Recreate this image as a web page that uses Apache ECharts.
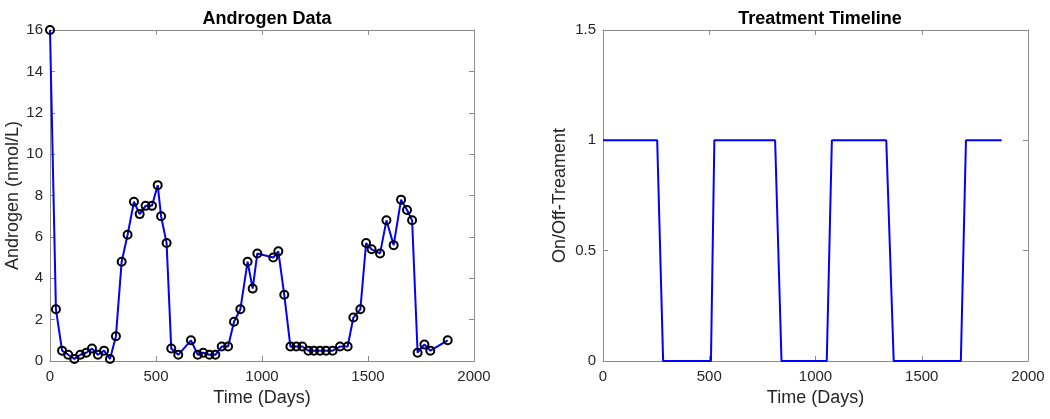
<!DOCTYPE html>
<html>
<head>
<meta charset="utf-8">
<script src="https://cdn.jsdelivr.net/npm/echarts@6/dist/echarts.min.js"></script>
<style>
  html, body { margin: 0; padding: 0; background: #fff; }
  #main { width: 1050px; height: 419px; }
</style>
</head>
<body>
<div id="main"></div>
<script>
// time points (days)
var days = [0, 28, 57, 86, 115, 143, 171, 198, 226, 255, 283, 311, 338, 366, 396, 423, 451, 481, 508, 524,
    550, 572, 605, 665, 697, 723, 752, 780, 810, 840, 868, 898, 932, 956, 978, 1053, 1077, 1105, 1134, 1162,
    1190, 1219, 1245, 1274, 1302, 1333, 1368, 1404, 1431, 1464, 1491, 1517, 1557, 1587, 1621, 1656, 1684, 1708,
    1734, 1766, 1794, 1876];
// androgen level nmol/L
var androgen = [16.0, 2.5, 0.5, 0.3, 0.1, 0.3, 0.4, 0.6, 0.3, 0.5, 0.1, 1.2, 4.8, 6.1, 7.7, 7.1, 7.5, 7.5, 8.5, 7.0,
    5.7, 0.6, 0.3, 1.0, 0.3, 0.4, 0.3, 0.3, 0.7, 0.7, 1.9, 2.5, 4.8, 3.5, 5.2, 5.0, 5.3, 3.2, 0.7, 0.7,
    0.7, 0.5, 0.5, 0.5, 0.5, 0.5, 0.7, 0.7, 2.1, 2.5, 5.7, 5.4, 5.2, 6.8, 5.6, 7.8, 7.3, 6.8,
    0.4, 0.8, 0.5, 1.0];
// on/off treatment
var treatment = [1, 1, 1, 1, 1, 1, 1, 1, 1, 1, 0, 0, 0, 0, 0, 0, 0, 0, 0, 1,
    1, 1, 1, 1, 1, 1, 1, 1, 1, 0, 0, 0, 0, 0, 0, 0, 1, 1, 1, 1,
    1, 1, 1, 1, 1, 1, 0, 0, 0, 0, 0, 0, 0, 0, 0, 0, 0, 1,
    1, 1, 1, 1];

var xTicks = {min: 0, max: 2000, interval: 500};

function pairs(xs, ys) {
    var out = [];
    for (var i = 0; i < xs.length; i++) {
        out.push([xs[i], ys[i]]);
    }
    return out;
}

var font = 'Liberation Sans, Arial, sans-serif';
var axisColor = '#8c8c8c';
var textColor = '#262626';

function mainX(grid) {
    return {
        type: 'value', gridIndex: grid, position: 'bottom', min: xTicks.min, max: xTicks.max, interval: xTicks.interval,
        name: 'Time (Days)', nameLocation: 'middle', nameGap: 28,
        nameTextStyle: {fontFamily: font, fontSize: 18, color: textColor},
        axisLine: {onZero: false, lineStyle: {color: axisColor}},
        axisTick: {inside: true, length: 5, lineStyle: {color: axisColor}},
        axisLabel: {fontFamily: font, fontSize: 15, color: textColor, margin: 8,
            formatter: function (v) { return String(v); }},
        splitLine: {show: false}
    };
}
// top edge of the box, ticks only
function mirrorX(grid) {
    return {
        type: 'value', gridIndex: grid, position: 'top', min: xTicks.min, max: xTicks.max, interval: xTicks.interval,
        axisLine: {onZero: false, lineStyle: {color: axisColor}},
        axisTick: {inside: true, length: 5, lineStyle: {color: axisColor}},
        axisLabel: {show: false}, splitLine: {show: false}
    };
}
function mainY(grid, name, min, max, step, gap) {
    return {
        type: 'value', gridIndex: grid, position: 'left', min: min, max: max, interval: step,
        name: name, nameLocation: 'middle', nameGap: gap,
        nameTextStyle: {fontFamily: font, fontSize: 18, color: textColor},
        axisLine: {show: true, onZero: false, lineStyle: {color: axisColor}},
        axisTick: {show: true, inside: true, length: 5, lineStyle: {color: axisColor}},
        axisLabel: {fontFamily: font, fontSize: 15, color: textColor, margin: 7},
        splitLine: {show: false}
    };
}
// right edge of the box, ticks only
function mirrorY(grid, min, max, step) {
    return {
        type: 'value', gridIndex: grid, position: 'right', min: min, max: max, interval: step,
        axisLine: {show: true, onZero: false, lineStyle: {color: axisColor}},
        axisTick: {show: true, inside: true, length: 5, lineStyle: {color: axisColor}},
        axisLabel: {show: false}, splitLine: {show: false}
    };
}

var chart = echarts.init(document.getElementById('main'), null, {renderer: 'canvas'});
chart.setOption({
    animation: false,
    backgroundColor: '#fff',
    title: [
        {text: 'Androgen Data', left: 262, top: 5, textAlign: 'center',
            textStyle: {fontFamily: font, fontSize: 18, fontWeight: 'bold', color: '#000'}},
        {text: 'Treatment Timeline', left: 815, top: 5, textAlign: 'center',
            textStyle: {fontFamily: font, fontSize: 18, fontWeight: 'bold', color: '#000'}}
    ],
    grid: [
        {left: 50, top: 30, width: 424, height: 331},
        {left: 603, top: 30, width: 425, height: 331}
    ],
    xAxis: [mainX(0), mirrorX(0), mainX(1), mirrorX(1)],
    yAxis: [
        mainY(0, 'Androgen (nmol/L)', 0, 16, 2, 27),
        mirrorY(0, 0, 16, 2),
        mainY(1, 'On/Off-Treament', 0, 1.5, 0.5, 34),
        mirrorY(1, 0, 1.5, 0.5)
    ],
    series: [
        {
            name: 'Androgen', type: 'line', xAxisIndex: 0, yAxisIndex: 0,
            data: pairs(days, androgen),
            symbol: 'circle', symbolSize: 8, showAllSymbol: true,
            lineStyle: {color: '#0000ff', width: 2},
            itemStyle: {color: 'rgba(0,0,0,0)', borderColor: '#000', borderWidth: 2}
        },
        {
            name: 'Treatment', type: 'line', xAxisIndex: 2, yAxisIndex: 2,
            data: pairs(days, treatment),
            symbol: 'none',
            lineStyle: {color: '#0000ff', width: 2}
        }
    ]
});
</script>
</body>
</html>
